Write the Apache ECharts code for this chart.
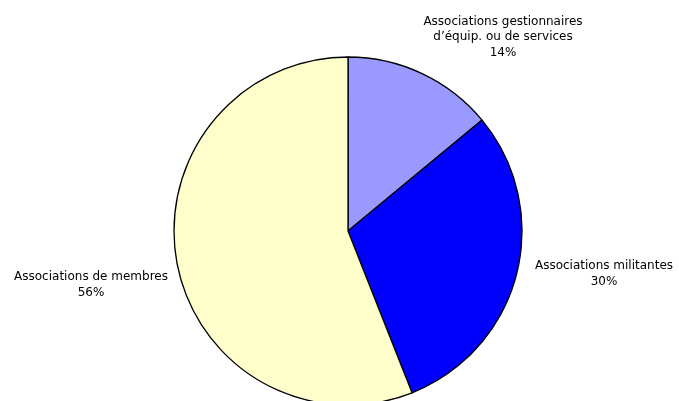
<!DOCTYPE html>
<html>
<head>
<meta charset="utf-8">
<script src="https://cdn.jsdelivr.net/npm/echarts@6/dist/echarts.min.js"></script>
<style>html,body{margin:0;padding:0;background:#fff;}#c{width:679px;height:401px;}</style>
</head>
<body>
<div id="c"></div>
<script>
const categories = ["Associations gestionnaires\nd\u2019\u00e9quip. ou de services", "Associations militantes", "Associations de membres"];
const values = [14, 30, 56];
const colors = ["#9999FF", "#0000FF", "#FFFFCC"];
const labelPos = [[503, 37], [604, 274], [91, 285]];

const chart = echarts.init(document.getElementById('c'), null, {renderer: 'canvas'});
chart.setOption({
  animation: false,
  backgroundColor: '#ffffff',
  series: [{
    type: 'pie',
    center: [348, 231],
    radius: 174,
    startAngle: 90,
    clockwise: true,
    percentPrecision: 0,
    data: categories.map((c, i) => ({name: c, value: values[i], itemStyle: {color: colors[i]}})),
    itemStyle: {borderColor: '#000', borderWidth: 1.3},
    label: {
      show: true,
      formatter: '{b}\n{d}%',
      fontFamily: 'DejaVu Sans, Verdana, sans-serif',
      fontSize: 12,
      lineHeight: 15.5,
      color: '#000',
      align: 'center',
      overflow: 'none',
      width: 300
    },
    labelLine: {show: false},
    labelLayout: function (p) {
      const pos = labelPos[p.dataIndex];
      return {x: pos[0], y: pos[1], align: 'center', verticalAlign: 'middle'};
    },
    emphasis: {disabled: true}
  }]
});
</script>
</body>
</html>
